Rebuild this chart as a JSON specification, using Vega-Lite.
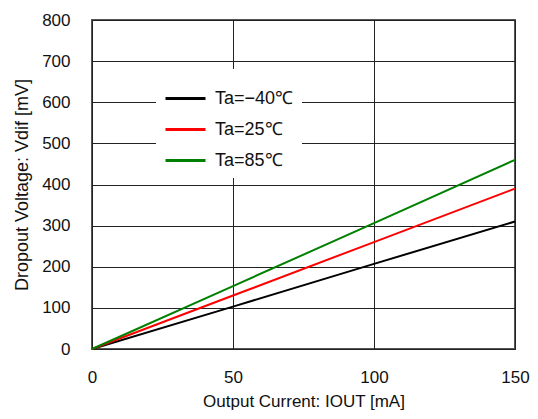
{
  "$schema": "https://vega.github.io/schema/vega-lite/v6.json",
  "width": 423,
  "height": 329,
  "autosize": {"type": "none"},
  "padding": {"left": 92, "top": 20, "right": 23, "bottom": 70},
  "background": "white",
  "config": {
    "font": "Liberation Sans",
    "view": {"stroke": "#555", "strokeWidth": 2},
    "axis": {
      "grid": true, "gridColor": "#222", "gridOpacity": 1, "gridWidth": 1,
      "domain": false, "ticks": false,
      "labelFont": "Liberation Sans", "labelFontSize": 17, "labelColor": "#111",
      "titleFont": "Liberation Sans", "titleFontSize": 17, "titleFontWeight": "normal", "titleColor": "#111"
    }
  },
  "data": {
    "values": [
      {"I": 0, "V": 0, "T": "Ta=−40℃"},
      {"I": 50, "V": 103, "T": "Ta=−40℃"},
      {"I": 100, "V": 207, "T": "Ta=−40℃"},
      {"I": 150, "V": 310, "T": "Ta=−40℃"},
      {"I": 0, "V": 0, "T": "Ta=25℃"},
      {"I": 50, "V": 130, "T": "Ta=25℃"},
      {"I": 100, "V": 260, "T": "Ta=25℃"},
      {"I": 150, "V": 390, "T": "Ta=25℃"},
      {"I": 0, "V": 0, "T": "Ta=85℃"},
      {"I": 50, "V": 153, "T": "Ta=85℃"},
      {"I": 100, "V": 306, "T": "Ta=85℃"},
      {"I": 150, "V": 460, "T": "Ta=85℃"}
    ]
  },
  "mark": {"type": "line", "strokeWidth": 2},
  "encoding": {
    "x": {
      "field": "I", "type": "quantitative",
      "scale": {"domain": [0, 150], "nice": false},
      "axis": {"values": [0, 50, 100, 150], "labelPadding": 20, "title": "Output Current: IOUT [mA]", "titlePadding": 8,
        "labelFlush": false}
    },
    "y": {
      "field": "V", "type": "quantitative",
      "scale": {"domain": [0, 800], "nice": false},
      "axis": {"values": [0, 100, 200, 300, 400, 500, 600, 700, 800], "labelPadding": 22, "title": "Dropout Voltage: Vdif [mV]", "titlePadding": 10, "titleFontSize": 18}
    },
    "color": {
      "field": "T", "type": "nominal",
      "sort": ["Ta=−40℃", "Ta=25℃", "Ta=85℃"],
      "scale": {"domain": ["Ta=−40℃", "Ta=25℃", "Ta=85℃"], "range": ["#000000", "#ff0000", "#008000"]},
      "legend": {
        "title": null, "orient": "none", "legendX": 64, "legendY": 49,
        "symbolType": "stroke", "symbolSize": 1600, "symbolStrokeWidth": 3,
        "labelFontSize": 18, "labelFont": "Liberation Sans", "labelColor": "#111",
        "rowPadding": 0, "labelOffset": 8,
        "fillColor": "white", "padding": 8
      }
    },
    "order": {"field": "I"}
  }
}
